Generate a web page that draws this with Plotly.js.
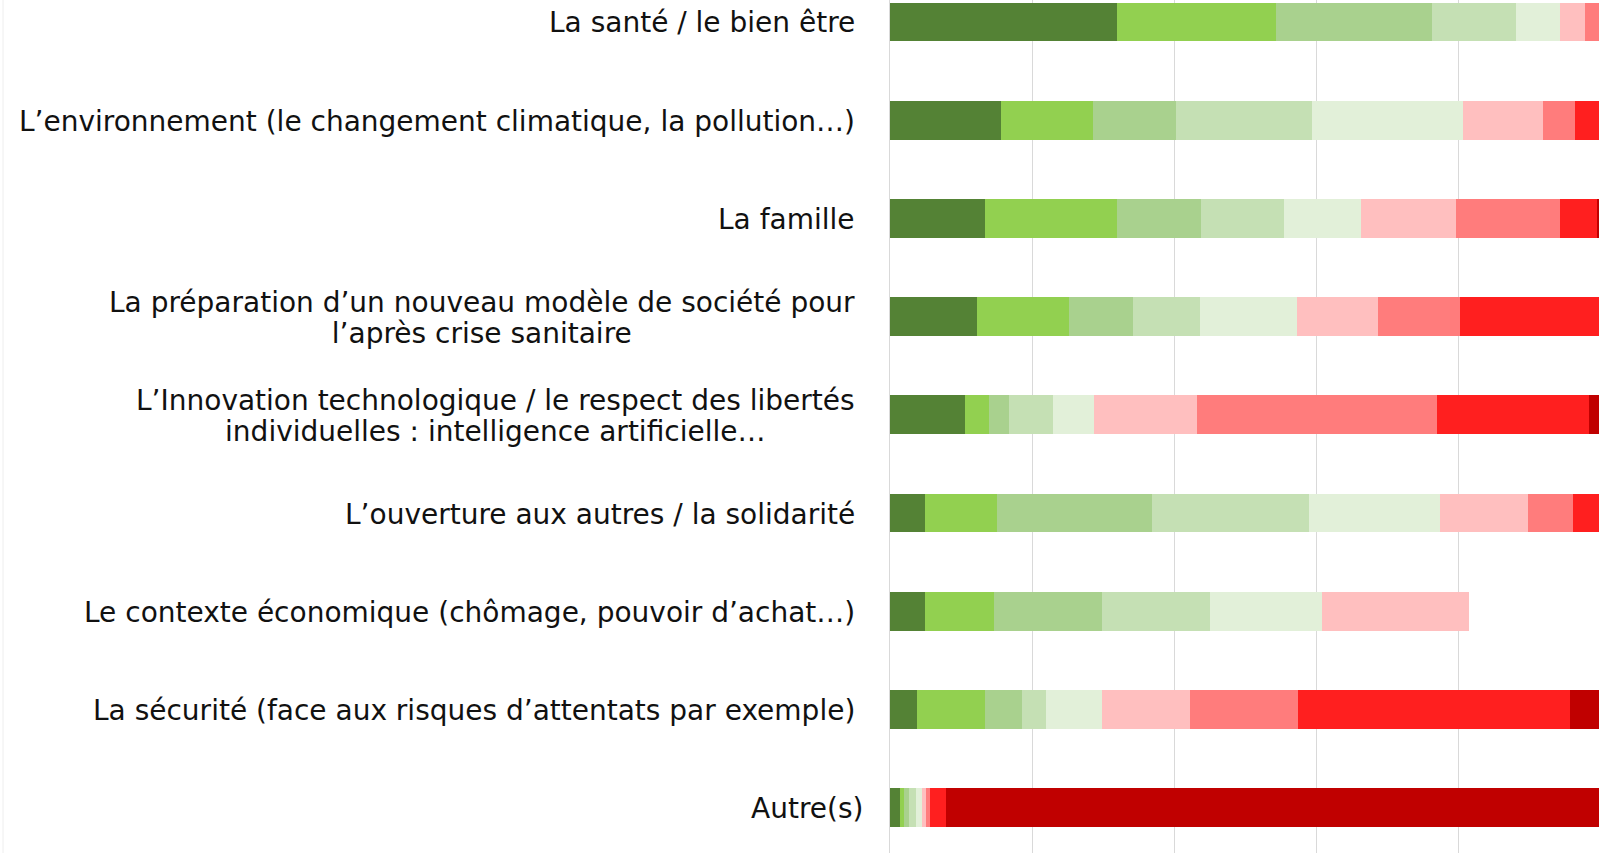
<!DOCTYPE html>
<html>
<head>
<meta charset="utf-8">
<script src="https://cdn.plot.ly/plotly-3.0.1.min.js"></script>
<style>
  html, body { margin: 0; padding: 0; background: #fff; overflow: hidden; }
  #chart { width: 1599px; height: 853px; }
</style>
</head>
<body>
<div id="chart"></div>
<script>
// Categories (top to bottom)
const categories = [
  "La santé / le bien être",
  "L’environnement (le changement climatique, la pollution…)",
  "La famille",
  "La préparation d’un nouveau modèle de société pour<br>l’après crise sanitaire",
  "L’Innovation technologique / le respect des libertés<br>individuelles : intelligence artificielle…",
  "L’ouverture aux autres / la solidarité",
  "Le contexte économique (chômage, pouvoir d’achat…)",
  "La sécurité (face aux risques d’attentats par exemple)",
  "Autre(s)"
];

// Series: share (%) of each rank, per category
const rankNames = ["Rang 1", "Rang 2", "Rang 3", "Rang 4", "Rang 5", "Rang 6", "Rang 7", "Rang 8", "Rang 9"];
const rank1 = [31.9, 15.6, 13.4, 12.3, 10.6,  4.9,  4.9,  3.8,  1.4];
const rank2 = [22.4, 12.9, 18.5, 12.9,  3.3, 10.1,  9.7,  9.5,  0.6];
const rank3 = [21.9, 11.7, 11.8,  9.0,  2.8, 21.9, 15.2,  5.3,  0.7];
const rank4 = [11.8, 19.1, 11.7,  9.4,  6.2, 22.0, 15.2,  3.3,  0.9];
const rank5 = [ 6.2, 21.3, 10.8, 13.6,  5.8, 18.5, 15.7,  7.9,  0.9];
const rank6 = [ 3.5, 11.2, 13.4, 11.4, 14.5, 12.4, 20.7, 12.4,  0.5];
const rank7 = [ 2.3,  4.6, 14.7, 11.6, 33.7,  6.2,  0.0, 15.2,  0.6];
const rank8 = [ 0.0,  3.6,  5.1, 19.8, 21.4,  4.0,  0.0, 38.3,  2.3];
const rank9 = [ 0.0,  0.0,  0.6,  0.0,  1.7,  0.0,  0.0,  4.3, 92.1];
const ranks = [rank1, rank2, rank3, rank4, rank5, rank6, rank7, rank8, rank9];

const colors = ["#548235", "#92D050", "#A9D18E", "#C5E0B4", "#E2F0D9",
                "#FFBFBF", "#FF7C7C", "#FF1F1F", "#C00000"];

const traces = ranks.map((vals, i) => ({
  type: "bar",
  orientation: "h",
  y: categories,
  x: vals,
  name: rankNames[i],
  marker: { color: colors[i], line: { width: 0 } },
  showlegend: false,
  hoverinfo: "x+name"
}));

const FONT_SIZE = 28;
const LINE_EM = 1.1;
const labelFont = { family: "DejaVu Sans, sans-serif", size: FONT_SIZE, color: "#111111" };

const annotations = categories.map((c, i) => {
  const multi = c.indexOf("<br>") >= 0;
  return {
    xref: "paper", yref: "y",
    x: (857 - 890) / 709, y: c,
    xanchor: "right", yanchor: "middle",
    xshift: i === categories.length - 1 ? 8 : 0,
    yshift: multi ? -4 : -1,
    text: c, align: "center",
    showarrow: false,
    font: labelFont
  };
});

const layout = {
  width: 1599, height: 853,
  margin: { l: 890, r: 0, t: 0, b: 0, pad: 0 },
  paper_bgcolor: "#ffffff",
  plot_bgcolor: "#ffffff",
  barmode: "stack",
  bargap: 0.605,
  xaxis: {
    range: [0, 99.72],
    tick0: 0, dtick: 20,
    showgrid: true, gridcolor: "#D9D9D9", gridwidth: 1,
    showticklabels: false, zeroline: false, showline: false, ticks: ""
  },
  yaxis: {
    type: "category",
    categoryorder: "array",
    categoryarray: categories,
    range: [8.461, -0.223],
    showticklabels: false, showgrid: false, zeroline: false,
    showline: true, linecolor: "#D9D9D9", linewidth: 1, ticks: ""
  },
  annotations: annotations,
  shapes: [{
    type: "line", xref: "paper", yref: "paper",
    x0: (3 - 890) / 709, x1: (3 - 890) / 709, y0: 0, y1: 1,
    line: { color: "#EEEEEE", width: 1 }
  }]
};

Plotly.newPlot("chart", traces, layout, { displayModeBar: false, staticPlot: true }).then(gd => {
  // tighten the line spacing of the two-line labels
  gd.querySelectorAll("text.annotation-text").forEach(t => {
    const lines = t.querySelectorAll("tspan.line");
    lines.forEach((ln, k) => { if (k > 0) ln.setAttribute("dy", LINE_EM + "em"); });
  });
});
</script>
</body>
</html>
